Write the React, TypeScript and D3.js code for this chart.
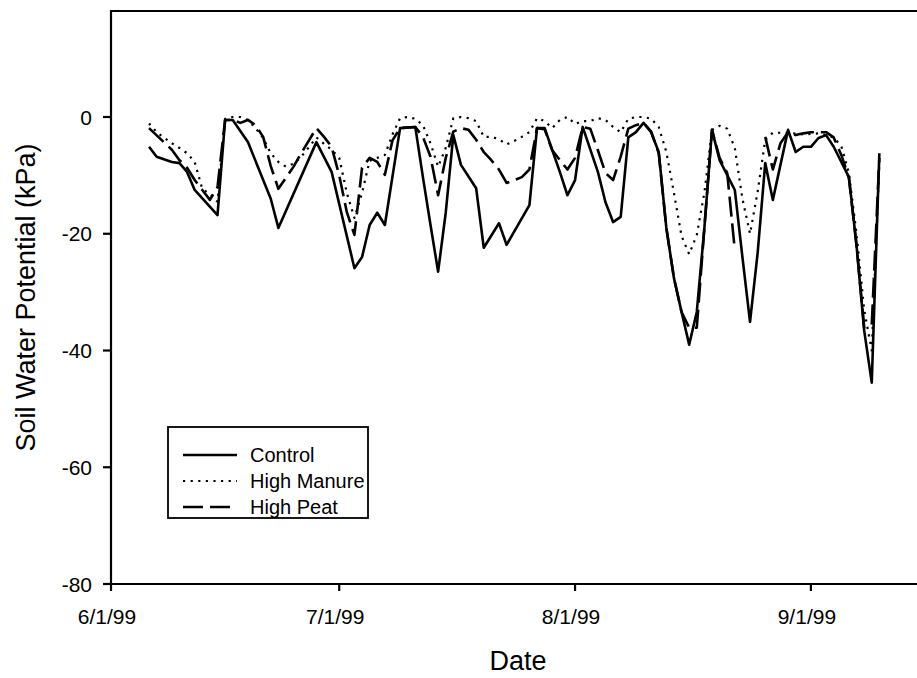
import React from "react";
import * as d3 from "d3";

// ---- data ----
const xTickLabels = ["6/1/99", "7/1/99", "8/1/99", "9/1/99"];
const yTickValues = [0, -20, -40, -60, -80];
const seriesNames = ["Control", "High Manure", "High Peat"];

const controlData: [string, number | null][] = [
  ["6/6/99", -5.1], ["6/7/99", -6.8], ["6/9/99", -7.7], ["6/10/99", -7.9], ["6/11/99", -9.4],
  ["6/12/99", -12.5], ["6/15/99", -16.8], ["6/16/99", -0.5], ["6/17/99", -0.5], ["6/19/99", -4.3],
  ["6/22/99", -14], ["6/23/99", -19], ["6/28/99", -4.3], ["6/30/99", -9.4], ["7/3/99", -25.9],
  ["7/4/99", -24], ["7/5/99", -18.5], ["7/6/99", -16.4], ["7/7/99", -18.5], ["7/9/99", -1.9],
  ["7/11/99", -1.7], ["7/12/99", -10.3], ["7/13/99", -18.5], ["7/14/99", -26.5], ["7/15/99", -16.4],
  ["7/16/99", -3.1], ["7/17/99", -8.2], ["7/19/99", -12.2], ["7/20/99", -22.4], ["7/22/99", -18.2],
  ["7/23/99", -21.9], ["7/26/99", -15.1], ["7/27/99", -1.9], ["7/28/99", -1.9], ["7/30/99", -9.4],
  ["7/31/99", -13.4], ["8/1/99", -10.8], ["8/2/99", -1.7], ["8/4/99", -9.4], ["8/5/99", -14.6],
  ["8/6/99", -18], ["8/7/99", -17.1], ["8/8/99", -3.5], ["8/9/99", -2.6], ["8/10/99", -1.0],
  ["8/11/99", -2.6], ["8/12/99", -6.0], ["8/13/99", -19], ["8/14/99", -27.6], ["8/15/99", -33.4],
  ["8/16/99", -39], ["8/17/99", -33.4], ["8/18/99", -19], ["8/19/99", -2.2], ["8/20/99", -7.4],
  ["8/22/99", -12.5], ["8/23/99", -24], ["8/24/99", -35.1], ["8/25/99", -23.3], ["8/26/99", -7.9],
  ["8/27/99", -14.2], ["8/29/99", -2.2], ["8/30/99", -6], ["8/31/99", -5.1], ["9/1/99", -5.1],
  ["9/2/99", -3.6], ["9/3/99", -3.1], ["9/4/99", -5.1], ["9/6/99", -10.3], ["9/7/99", -22],
  ["9/8/99", -36.5], ["9/9/99", -45.5], ["9/10/99", -6.2],
];

const manureData: [string, number | null][] = [
  ["6/6/99", -1.1], ["6/7/99", -2.6], ["6/9/99", -4.5], ["6/10/99", -5.3], ["6/11/99", -6.2],
  ["6/12/99", -7.7], ["6/13/99", -12.3], ["6/14/99", -13.2], ["6/15/99", -14.5], ["6/16/99", -0.3],
  ["6/17/99", 0], ["6/18/99", 0], ["6/19/99", -0.5], ["6/20/99", -1.9], ["6/21/99", -3.6],
  ["6/22/99", -6.2], ["6/23/99", -7.7], ["6/24/99", -8.5], ["6/25/99", -8], ["6/26/99", -6.8],
  ["6/27/99", -5.2], ["6/28/99", -3.5], ["6/29/99", -4.6], ["6/30/99", -5.6], ["7/1/99", -7],
  ["7/2/99", -13], ["7/3/99", -17.3], ["7/4/99", -13], ["7/5/99", -7.5], ["7/6/99", -7],
  ["7/7/99", -6.5], ["7/8/99", -3], ["7/9/99", -0.2], ["7/10/99", 0], ["7/11/99", -0.3],
  ["7/12/99", -1.4], ["7/13/99", -4.5], ["7/14/99", -8.5], ["7/15/99", -5.3], ["7/16/99", -0.2],
  ["7/17/99", 0], ["7/18/99", -0.2], ["7/19/99", -0.7], ["7/20/99", -3.4], ["7/21/99", -3.4],
  ["7/22/99", -3.8], ["7/23/99", -4.7], ["7/24/99", -4.1], ["7/25/99", -3.4], ["7/26/99", -2.6],
  ["7/27/99", -0.2], ["7/28/99", -0.7], ["7/29/99", -1.9], ["7/30/99", -0.5], ["7/31/99", 0],
  ["8/1/99", -1.2], ["8/2/99", -0.7], ["8/3/99", -0.7], ["8/4/99", -0.2], ["8/5/99", -0.5],
  ["8/6/99", -1.7], ["8/7/99", -2.6], ["8/8/99", -0.3], ["8/9/99", 0], ["8/10/99", 0],
  ["8/11/99", -0.3], ["8/12/99", -1.7], ["8/13/99", -6], ["8/14/99", -13], ["8/15/99", -20.4],
  ["8/16/99", -23.5], ["8/17/99", -20.2], ["8/18/99", -13], ["8/19/99", -2.2], ["8/20/99", -1.5],
  ["8/21/99", -2], ["8/22/99", -5.3], ["8/23/99", -14], ["8/24/99", -20], ["8/25/99", -12.8],
  ["8/26/99", -3.9], ["8/27/99", -2.7], ["8/28/99", -2.7], ["8/29/99", -2.7], ["8/31/99", -3],
  ["9/2/99", -2.8], ["9/4/99", -3.5], ["9/5/99", -5], ["9/6/99", -9.6], ["9/7/99", -20],
  ["9/8/99", -33], ["9/9/99", -40], ["9/10/99", -8],
];

const peatData: [string, number | null][] = [
  ["6/6/99", -1.9], ["6/9/99", -5.6], ["6/10/99", -7.4], ["6/11/99", -8.7], ["6/12/99", -10.8],
  ["6/13/99", -12.5], ["6/14/99", -14.2], ["6/15/99", -12], ["6/16/99", -0.5], ["6/17/99", -0.5],
  ["6/18/99", -1], ["6/19/99", -0.5], ["6/20/99", -1.4], ["6/21/99", -3.4], ["6/22/99", -8.4],
  ["6/23/99", -12.3], ["6/25/99", -8.5], ["6/26/99", -6.2], ["6/28/99", -1.9], ["6/29/99", -3.4],
  ["6/30/99", -5.1], ["7/1/99", -10], ["7/2/99", -16.3], ["7/3/99", -20.2], ["7/4/99", -8.7],
  ["7/5/99", -7], ["7/6/99", -7.7], ["7/7/99", -9.9], ["7/8/99", -4], ["7/9/99", -1.9],
  ["7/11/99", -1.7], ["7/12/99", -3.4], ["7/13/99", -6.8], ["7/14/99", -13.4], ["7/15/99", -7],
  ["7/16/99", -2.5], ["7/17/99", -1.9], ["7/18/99", -2.2], ["7/19/99", -3.9], ["7/20/99", -6],
  ["7/21/99", -7.4], ["7/22/99", -9], ["7/23/99", -11.3], ["7/25/99", -10.3], ["7/26/99", -9],
  ["7/27/99", -1.9], ["7/28/99", -2.1], ["7/29/99", -5.7], ["7/31/99", -9], ["8/1/99", -7],
  ["8/2/99", -1.7], ["8/3/99", -2], ["8/4/99", -5.7], ["8/5/99", -9.6], ["8/6/99", -10.8],
  ["8/7/99", -6.8], ["8/8/99", -2], ["8/9/99", -1.4], ["8/10/99", -1.0], ["8/11/99", -2.5],
  ["8/12/99", -6.2], ["8/13/99", -19], ["8/14/99", -27.6], ["8/15/99", -33.4], ["8/16/99", -36.1],
  ["8/17/99", -36.1], ["8/18/99", -19], ["8/19/99", -2.2], ["8/20/99", -7], ["8/21/99", -9.6],
  ["8/22/99", -22.8], ["8/23/99", null], ["8/26/99", -3.4], ["8/27/99", -9], ["8/28/99", -4.5],
  ["8/29/99", -2.6], ["8/30/99", -3.1], ["8/31/99", -2.8], ["9/1/99", -2.6], ["9/2/99", -2.6],
  ["9/3/99", -2.6], ["9/4/99", -3.5], ["9/5/99", -6.5], ["9/6/99", -10.5], ["9/7/99", -22],
  ["9/8/99", -36], ["9/9/99", -35.6], ["9/10/99", -7],
];

const xDomainLabels = ["6/1/99", "9/16/99"];
const yDomain = [-80, 18.16];

export default function App() {
  const W = 917;
  const H = 678;
  const parse = d3.timeParse("%m/%d/%y");
  const left = 111, right = 925, top = 11, bottom = 584;

  const x = d3.scaleTime()
    .domain([parse(xDomainLabels[0])!, parse(xDomainLabels[1])!])
    .range([left, right]);
  const y = d3.scaleLinear().domain(yDomain).range([bottom, top]);

  const line = d3.line<[string, number | null]>()
    .defined((d) => d[1] !== null)
    .x((d) => x(parse(d[0])!))
    .y((d) => y(d[1] as number));

  const font = "'Liberation Sans', Arial, Helvetica, sans-serif";

  const styles = [
    { stroke: "#000", width: 2.6, dash: undefined as string | undefined },
    { stroke: "#000", width: 2.2, dash: "2.2 5.4" },
    { stroke: "#000", width: 2.6, dash: "20 7" },
  ];
  const seriesData = [controlData, manureData, peatData];

  const legX = 168, legY = 427, legW = 200, legH = 91;
  const rowY = [455, 481, 507];

  return (
    <svg
      width={W}
      height={H}
      viewBox={`0 0 ${W} ${H}`}
      style={{ position: "absolute", left: 0, top: 0, background: "#fff" }}
      fontFamily={font}
    >
      <rect x={0} y={0} width={W} height={H} fill="#fff" />

      {/* series */}
      {[1, 2, 0].map((i) => (
        <path
          key={seriesNames[i]}
          d={line(seriesData[i]) || ""}
          fill="none"
          stroke={styles[i].stroke}
          strokeWidth={styles[i].width}
          strokeDasharray={styles[i].dash}
          strokeLinejoin="round"
        />
      ))}

      {/* frame */}
      <path
        d={`M${left},${bottom}H${right}M${left},${bottom}V${top}H${right}V${bottom}`}
        fill="none"
        stroke="#000"
        strokeWidth={2.2}
      />

      {/* y ticks */}
      {yTickValues.map((v) => (
        <g key={v}>
          <line x1={left - 8} x2={left} y1={y(v)} y2={y(v)} stroke="#000" strokeWidth={2.2} />
          <text x={left - 19} y={y(v)} dy="0.36em" textAnchor="end" fontSize={21} fill="#000">
            {v}
          </text>
        </g>
      ))}

      {/* x ticks */}
      {xTickLabels.map((lab) => {
        const xx = x(parse(lab)!);
        return (
          <g key={lab}>
            <line x1={xx} x2={xx} y1={bottom} y2={bottom + 7} stroke="#000" strokeWidth={2.2} />
            <text x={xx - 4} y={624} textAnchor="middle" fontSize={21} fill="#000">
              {lab}
            </text>
          </g>
        );
      })}

      {/* axis titles */}
      <text x={518} y={670} textAnchor="middle" fontSize={27} fill="#000">
        Date
      </text>
      <text
        transform={`translate(35,${(top + bottom) / 2}) rotate(-90)`}
        textAnchor="middle"
        fontSize={27}
        fill="#000"
      >
        Soil Water Potential (kPa)
      </text>

      {/* legend */}
      <rect x={legX} y={legY} width={legW} height={legH} fill="#fff" stroke="#000" strokeWidth={1.8} />
      {seriesNames.map((name, i) => (
        <g key={name}>
          <line
            x1={183}
            x2={237}
            y1={rowY[i]}
            y2={rowY[i]}
            stroke="#000"
            strokeWidth={styles[i].width}
            strokeDasharray={styles[i].dash}
          />
          <text x={250} y={rowY[i]} dy="0.36em" fontSize={20} fill="#000">
            {name}
          </text>
        </g>
      ))}
    </svg>
  );
}
